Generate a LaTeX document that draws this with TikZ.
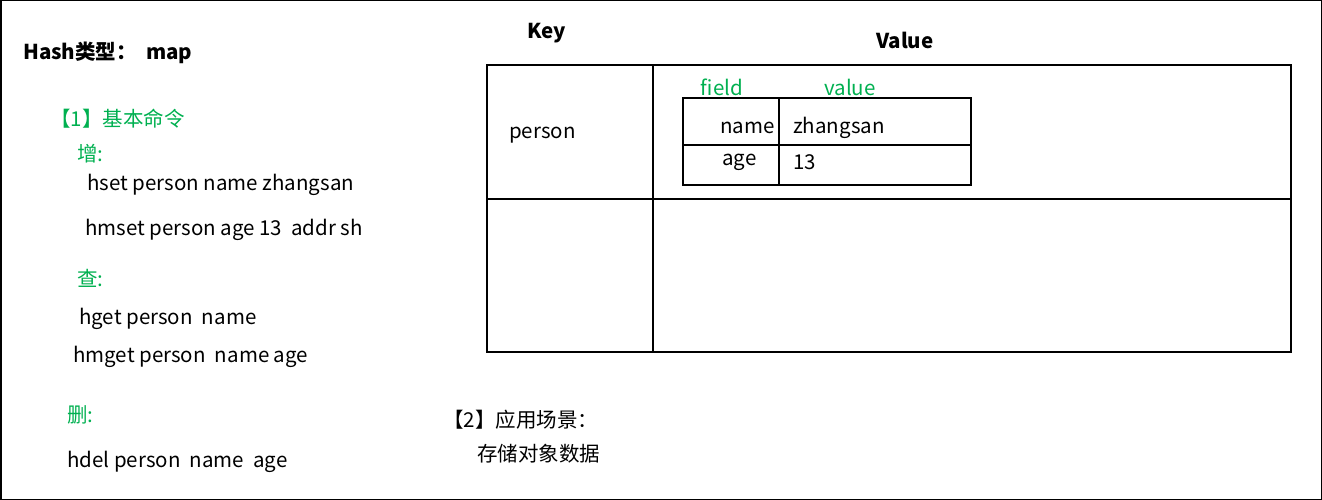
\documentclass[tikz,border=0pt]{standalone}
\usepackage{fontspec}
\setmainfont{Noto Sans CJK SC}
\usepackage{tikz}
\usetikzlibrary{positioning, calc}
\definecolor{mygreen}{RGB}{0,176,80}
\definecolor{mydark}{RGB}{0,0,0}
\tikzset{
  txt/.style={anchor=west, inner sep=0pt, yshift=-2.5pt, font=\fontsize{20.5}{24}\selectfont, text=mydark},
  gtxt/.style={txt, text=mygreen},
  head/.style={inner sep=0pt, yshift=-1pt, font=\fontsize{20.5}{24}\selectfont\bfseries, text=mydark},
  grid/.style={draw=mydark, line width=1.2pt},
  frame/.style={draw=mydark, line width=1.5pt}
}
\begin{document}
\begin{tikzpicture}[x=1pt, y=-1pt]
  \useasboundingbox (0,0) rectangle (1322,500);
  \draw[frame] (0.75,0.75) rectangle (1321.25,499.25);

  % left column: commands
  \node[head, anchor=west] (title) at (23,52) {Hash类型：\ \ map};
  \node[gtxt] (basic) at (50,116) {【1】基本命令};
  \node[gtxt] (add) at (77,151) {增:};
  \node[txt] (hset) at (87,182) {hset person name zhangsan};
  \node[txt] (hmset) at (85,227) {hmset person age 13\ \ addr sh};
  \node[gtxt] (query) at (77,276) {查:};
  \node[txt] (hget) at (79,316) {hget person\ \ name};
  \node[txt] (hmget) at (73,354) {hmget person\ \ name age};
  \node[gtxt] (del) at (67,412) {删:};
  \node[txt] (hdel) at (67,459) {hdel person\ \ name\ \ age};

  % key / value table
  \node[head] (key) at (547,32) {Key};
  \node[head] (value) at (905,39) {Value};
  \draw[grid] (487,65) rectangle (1291,352);
  \draw[grid] (487,199) -- (1291,199);
  \draw[grid] (653,65) -- (653,352);
  \node[txt] (person) at (509,133) {person};

  % field / value table
  \node[gtxt, anchor=center] (field) at (722,85) {field};
  \node[gtxt, anchor=center] (fval) at (850,85) {value};
  \draw[grid] (683,98) rectangle (971,185);
  \draw[grid] (683,145) -- (971,145);
  \draw[grid] (779,98) -- (779,185);
  \node[txt, anchor=east] (fname) at (775,125) {name};
  \node[txt] (vname) at (793,125) {zhangsan};
  \node[txt] (fage) at (722,160) {age};
  \node[txt] (vage) at (793,160) {13};

  % usage
  \node[txt] (usage) at (443,417) {【2】应用场景：};
  \node[txt] (store) at (477,451) {存储对象数据};
\end{tikzpicture}
\end{document}
